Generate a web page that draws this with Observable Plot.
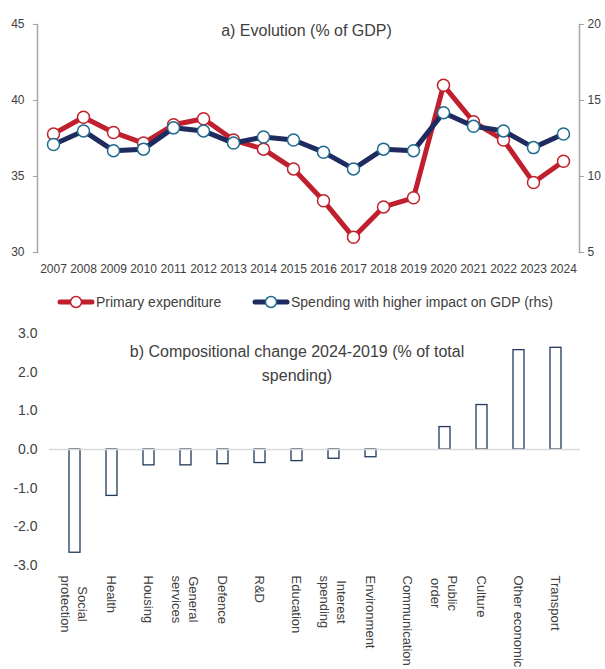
<!DOCTYPE html>
<html><head><meta charset="utf-8">
<script src="https://cdn.jsdelivr.net/npm/d3@7"></script>
<script src="https://cdn.jsdelivr.net/npm/@observablehq/plot@0.6"></script>
<style>
html,body{margin:0;padding:0;overflow:hidden;background:#fff;width:605px;height:669px;}
body{font-family:"Liberation Sans",Arial,sans-serif;color:#404040;}
#top svg,#bottom svg{display:block;}
#legend{position:relative;height:33px;font-size:14px;}
.item{position:absolute;top:0;height:33px;display:flex;align-items:center;white-space:nowrap;}
.item svg{display:block;margin-right:1px;}
</style></head><body>
<div id="top"></div>
<div id="legend"></div>
<div id="bottom"></div>
<script>
// ---- Data: panel a ----
const years = [2007,2008,2009,2010,2011,2012,2013,2014,2015,2016,2017,2018,2019,2020,2021,2022,2023,2024];
const primaryExpenditure = [37.8,38.9,37.9,37.2,38.4,38.8,37.4,36.8,35.5,33.4,31.0,33.0,33.6,41.0,38.6,37.4,34.6,36.0];
const higherImpactSpending = [12.1,13.0,11.7,11.8,13.2,13.0,12.2,12.6,12.4,11.6,10.5,11.8,11.7,14.2,13.3,13.0,11.9,12.8];
const leftTicks = [30,35,40,45];
const rightTicks = [5,10,15,20];
const seriesNames = ["Primary expenditure","Spending with higher impact on GDP (rhs)"];
const titleA = "a) Evolution (% of GDP)";

// ---- Data: panel b ----
const categories = ["Social\nprotection","Health","Housing","General\nservices","Defence","R&D","Education","Interest\nspending","Environment","Communication","Public\norder","Culture","Other economic","Transport"];
const compChange = [-2.67,-1.2,-0.41,-0.41,-0.38,-0.35,-0.30,-0.24,-0.20,0,0.58,1.15,2.57,2.63];
const changeTicks = [-3,-2,-1,0,1,2,3];
const titleB = "b) Compositional change 2024-2019 (% of total\nspending)";

const red = "#C0202E", navy = "#1F2A5E", teal = "#1E6A8E", axisGray = "#A6A6A6", textGray = "#404040";
const font = "'Liberation Sans', Arial, sans-serif";
const offset = 25; // rhs value + 25 = lhs value (20↔45, 5↔30)

const tdata = years.map((y,i)=>({year:y, pe:primaryExpenditure[i], hi:higherImpactSpending[i]}));

const topPlot = Plot.plot({
  width:605, height:285,
  marginTop:24, marginBottom:33, marginLeft:37, marginRight:26,
  style:{fontFamily:font, fontSize:"12px", background:"white", color:textGray, overflow:"visible"},
  x:{type:"point", domain:years, padding:0.5, label:null, axis:null},
  y:{domain:[30,45], label:null, axis:null},
  marks:[
    Plot.axisX(years, {tickSize:0, tickPadding:12, fontSize:12, fill:textGray, label:null, tickFormat:d=>String(d)}),
    Plot.axisY(leftTicks, {anchor:"left", tickSize:4, tickPadding:9, stroke:axisGray, fill:textGray, fontSize:12, label:null}),
    Plot.axisY(rightTicks.map(d=>d+offset), {anchor:"right", tickSize:4, tickPadding:4, stroke:axisGray, fill:textGray, fontSize:12, label:null, tickFormat:d=>String(d-offset)}),
    Plot.frame({anchor:"left", stroke:axisGray, strokeWidth:1.5}),
    Plot.frame({anchor:"right", stroke:axisGray, strokeWidth:1.5}),
    Plot.line(tdata, {x:"year", y:"pe", stroke:red, strokeWidth:5}),
    Plot.dot(tdata, {x:"year", y:"pe", r:6, fill:"white", stroke:red, strokeWidth:1.5}),
    Plot.line(tdata, {x:"year", y:d=>d.hi+offset, stroke:navy, strokeWidth:5}),
    Plot.dot(tdata, {x:"year", y:d=>d.hi+offset, r:6, fill:"white", stroke:teal, strokeWidth:1.5}),
    Plot.text([titleA], {frameAnchor:"top", lineAnchor:"middle", dy:6, dx:-2, fontSize:16, fill:textGray})
  ]
});
document.getElementById("top").appendChild(topPlot);

// legend
const legend = document.getElementById("legend");
const legendItems = [
  {name:seriesNames[0], line:red, ring:red, left:57},
  {name:seriesNames[1], line:navy, ring:teal, left:252}
];
for (const it of legendItems) {
  const span = document.createElement("span");
  span.className = "item";
  span.style.left = it.left + "px";
  span.innerHTML = `<svg width="38" height="16"><line x1="3" x2="35" y1="8" y2="8" stroke="${it.line}" stroke-width="5" stroke-linecap="round"/><circle cx="19" cy="8" r="5.5" fill="white" stroke="${it.ring}" stroke-width="1.5"/></svg><span>${it.name}</span>`;
  legend.appendChild(span);
}

// panel b
const bdata = categories.map((c,i)=>({cat:c, v:compChange[i]}));
const ctx = document.createElement("canvas").getContext("2d");
ctx.font = "13px 'Liberation Sans', Arial, sans-serif";
const labelMarks = categories.map(c => {
  const maxLen = Math.max(...c.split("\n").map(s => ctx.measureText(s).width));
  return Plot.text([c], {x:d=>d, text:d=>d, frameAnchor:"bottom", rotate:90, textAnchor:"middle", lineAnchor:"middle", lineHeight:1.3, dy:10 + maxLen/2, fontSize:13, fill:textGray});
});

const bottomPlot = Plot.plot({
  width:605, height:360,
  marginTop:15, marginBottom:113, marginLeft:49, marginRight:25,
  style:{fontFamily:font, fontSize:"14px", background:"white", color:textGray, overflow:"visible"},
  x:{type:"band", domain:categories, padding:0, label:null, axis:null},
  y:{domain:[-3,3], label:null, axis:null},
  marks:[
    Plot.axisY(changeTicks, {anchor:"left", tickSize:0, tickPadding:12, fontSize:14, fill:textGray, label:null, tickFormat:d=>d.toFixed(1)}),
    Plot.barY(bdata, {x:"cat", y:"v", insetLeft:13, insetRight:13, fill:"white", stroke:"#1F3A5A", strokeWidth:1.3}),
    Plot.ruleY([0], {stroke:"#D9D9D9", strokeWidth:1.5}),
    Plot.text([titleB], {frameAnchor:"top", lineAnchor:"middle", dy:28, dx:-18, fontSize:16, lineHeight:1.5, fill:textGray}),
    ...labelMarks
  ]
});
document.getElementById("bottom").appendChild(bottomPlot);
</script>
</body></html>
